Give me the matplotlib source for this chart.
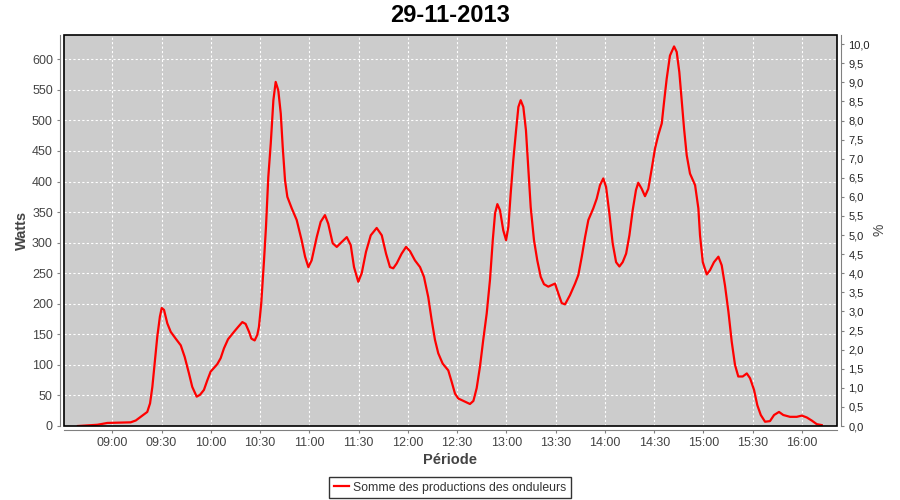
import matplotlib
matplotlib.use('Agg')
import matplotlib.pyplot as plt
from matplotlib.patches import Rectangle
from matplotlib.ticker import FuncFormatter, MultipleLocator

plt.rcParams['font.family'] = ['Liberation Sans', 'DejaVu Sans']

# data: minutes after 09:00 and watts
minutes = [-20.9, -9.1, -3.0, 11.2, 14.3, 18.3, 21.3, 23.0, 24.4, 25.8, 27.4, 29.0, 30.1, 31.5,
           33.5, 35.6, 38.6, 41.7, 44.1, 46.7, 48.7, 51.4, 53.4, 55.8, 57.9, 59.9, 63.9, 66.0,
           68.0, 70.5, 74.1, 76.6, 79.2, 81.2, 83.3, 84.7, 86.7, 88.3, 89.3, 90.7, 92.4, 93.6,
           95.0, 96.5, 98.1, 99.5, 101.1, 102.6, 103.8, 105.2, 106.6, 109.3, 112.3, 115.3, 117.4,
           119.4, 121.4, 124.5, 126.9, 129.5, 131.5, 134.2, 136.7, 139.7, 142.8, 145.2, 147.2,
           149.8, 151.9, 154.5, 157.4, 161.0, 164.1, 166.7, 169.1, 171.1, 173.2, 176.2, 178.9,
           181.3, 184.3, 187.4, 189.8, 192.4, 194.5, 196.5, 198.5, 201.2, 204.6, 206.7, 208.7,
           210.7, 213.8, 217.8, 219.9, 221.9, 223.9, 225.9, 228.0, 230.0, 231.7, 233.1, 234.5,
           236.1, 238.1, 239.8, 241.2, 242.6, 244.2, 245.9, 247.3, 248.7, 250.3, 251.9, 253.3,
           254.8, 256.8, 258.8, 260.9, 262.9, 265.5, 269.6, 271.6, 273.7, 275.7, 278.7, 281.8,
           283.8, 285.9, 287.9, 289.9, 292.9, 295.0, 297.0, 299.0, 300.7, 302.7, 304.7, 306.8,
           308.8, 310.8, 312.9, 314.9, 316.9, 318.9, 320.3, 322.4, 324.4, 326.4, 328.5, 330.5,
           332.5, 334.6, 336.0, 337.6, 339.6, 342.1, 343.7, 345.3, 346.8, 348.2, 349.8, 351.8,
           354.9, 356.9, 357.9, 359.6, 362.0, 364.0, 366.4, 369.1, 371.1, 373.1, 375.2, 377.2,
           379.2, 381.2, 383.9, 386.4, 388.4, 390.8, 392.8, 394.9, 397.5, 400.5, 403.0, 406.0,
           408.6, 412.7, 416.8, 419.9, 422.9, 425.9, 429.0, 432.0]
watts = [0, 2, 5, 6, 9, 17, 23, 37, 64, 102, 146, 179, 193, 190,
         168, 154, 143, 132, 113, 86, 64, 48, 51, 59, 75, 89, 101, 111,
         127, 142, 154, 162, 170, 167, 154, 143, 140, 149, 162, 200, 271, 326,
         407, 462, 533, 563, 549, 511, 456, 402, 375, 356, 337, 304, 277,
         260, 271, 309, 334, 345, 331, 299, 293, 301, 309, 296, 260,
         236, 250, 285, 312, 324, 312, 282, 260, 258, 266, 282, 293,
         286, 271, 260, 244, 211, 173, 141, 119, 102, 91, 72, 53,
         45, 41, 36, 41, 62, 97, 141, 184, 239, 304, 348, 363,
         353, 320, 304, 326, 380, 435, 484, 522, 533, 522, 484, 424,
         358, 304, 271, 244, 232, 228, 233, 217, 201, 199, 214, 233,
         247, 277, 309, 337, 356, 372, 394, 405, 391, 348, 299, 268,
         261, 268, 282, 312, 353, 386, 398, 388, 376, 388, 421, 454,
         476, 495, 530, 568, 606, 621, 612, 579, 530, 486, 443, 413,
         394, 356, 312, 268, 248, 255, 268, 277, 263, 230, 187, 138,
         100, 81, 81, 86, 78, 59, 34, 18, 7, 8, 18, 23,
         18, 15, 15, 17, 14, 9, 3, 1.5]

title = "29-11-2013"
series_name = "Somme des productions des onduleurs"
start = 9 * 60

clock = [start + m for m in minutes]

fig = plt.figure(figsize=(9, 5), dpi=100)
ax = fig.add_axes([64 / 900, 74 / 500, 773.3 / 900, 391 / 500])
ax.set_facecolor('#cccccc')
ax.set_axisbelow(True)

ax.plot(clock, watts, color='#ff0000', lw=1.6, label=series_name)

ax.set_xlim(510.6, 981.5)
ax.set_ylim(0, 639.7)
ax.xaxis.set_major_locator(MultipleLocator(30))
ax.xaxis.set_major_formatter(FuncFormatter(lambda m, p: "%02d:%02d" % (int(m // 60), int(m % 60))))
ax.yaxis.set_major_locator(MultipleLocator(50))
ax.grid(True, color='white', linestyle=(0, (2, 2)), linewidth=0.8)

for s in ['top', 'right']:
    ax.spines[s].set_visible(False)
for s in ['left', 'bottom']:
    ax.spines[s].set_position(('outward', 3))
    ax.spines[s].set_color('#808080')
ax.add_patch(Rectangle((0, 0), 1, 1, transform=ax.transAxes, fill=False,
                       ec='black', lw=1.2, clip_on=False, zorder=5))
ax.tick_params(direction='out', length=2, color='#808080', labelsize=9,
               labelcolor='#444444', pad=3)

ax2 = ax.twinx()
ax2.set_ylim(0, 10.24)
ax2.yaxis.set_major_locator(MultipleLocator(0.5))
ax2.yaxis.set_major_formatter(FuncFormatter(lambda v, p: ("%.1f" % v).replace('.', ',')))
for s in ['top', 'left', 'bottom']:
    ax2.spines[s].set_visible(False)
ax2.spines['right'].set_position(('outward', 3))
ax2.spines['right'].set_color('#808080')
ax2.tick_params(direction='out', length=2, color='#808080', labelsize=8,
                labelcolor='#222222', pad=3)

fig.text(0.5, 1 - 15 / 500, title, ha='center', va='center', fontsize=17, fontweight='bold')
fig.text(22 / 900, 1 - 230 / 500, "Watts", rotation=90, ha='center', va='center',
         fontsize=10.5, fontweight='bold', color='#444444')
fig.text(450 / 900, 1 - 460 / 500, "Période", ha='center', va='center',
         fontsize=10.5, fontweight='bold', color='#444444')
fig.text(880 / 900, 1 - 230 / 500, "%", rotation=90, ha='center', va='center',
         fontsize=10, color='#444444')

leg = fig.legend(loc='center', bbox_to_anchor=(0.5, 1 - 487.5 / 500), fontsize=8.8,
                 frameon=True, fancybox=False, handlelength=1.3, handletextpad=0.3,
                 borderpad=0.35, borderaxespad=0)
leg.get_frame().set_edgecolor('black')
leg.get_frame().set_linewidth(1.0)
for t in leg.get_texts():
    t.set_color('#333333')

fig.savefig('out.png', dpi=100)
